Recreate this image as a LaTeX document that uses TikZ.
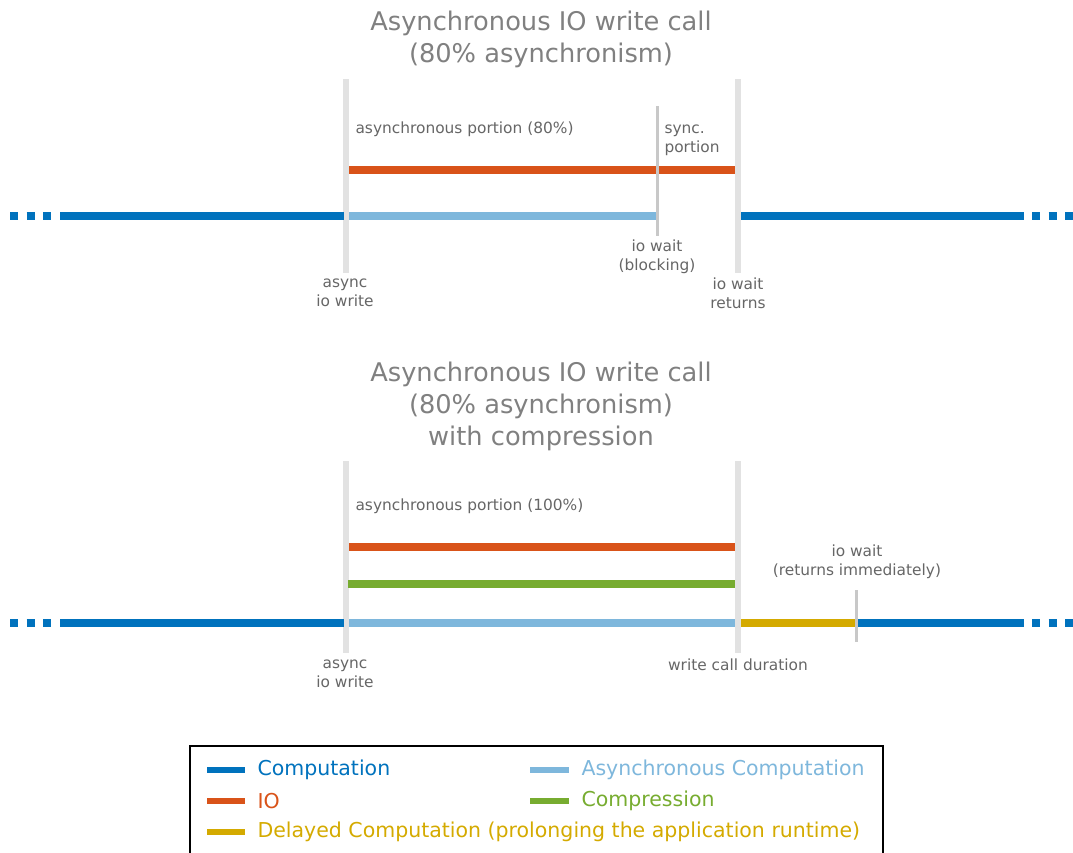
\documentclass[tikz,border=0pt]{standalone}
\usepackage{fontspec}
\setmainfont{DejaVu Sans}
\usetikzlibrary{positioning}
\usepackage{xcolor}

\definecolor{compblue}{RGB}{0,114,189}
\definecolor{ioorange}{RGB}{217,83,25}
\definecolor{asyncblue}{RGB}{126,183,220}
\definecolor{compgreen}{RGB}{119,172,48}
\definecolor{delayyellow}{RGB}{212,170,0}
\definecolor{titlegray}{RGB}{128,128,128}
\definecolor{notegray}{RGB}{102,102,102}
\definecolor{markgray}{RGB}{226,226,226}
\definecolor{waitgray}{RGB}{200,200,200}

\begin{document}
\begin{tikzpicture}[x=1pt, y=-1pt,
        heading/.style={text=titlegray, font=\fontsize{25.7}{32}\selectfont, align=center},
        note/.style={text=notegray, font=\fontsize{15.4}{19}\selectfont, align=center},
        seg/.style={line width=8pt},
        dots/.style={seg, compblue, dash pattern=on 8pt off 8.5pt},
        marker/.style={markgray, line width=6pt},
        waitmark/.style={waitgray, line width=3pt},
        legline/.style={line width=5.5pt},
        legtext/.style={font=\fontsize{20.5}{24}\selectfont, anchor=west}
    ]
        \useasboundingbox (0,-1) rectangle (1073,851);

        % Top panel
        \node[heading] (title1) at (541,38) {Asynchronous IO write call\\(80\% asynchronism)};

        \draw[marker] (346,78) -- (346,272);
        \draw[marker] (738,78) -- (738,272);
        \draw[waitmark] (657,105) -- (657,235);

        \draw[dots] (10,215) -- (52,215);
        \draw[seg, compblue] (60,215) -- (344,215);
        \draw[seg, asyncblue] (349,215) -- (656,215);
        \draw[seg, compblue] (741,215) -- (1024,215);
        \draw[dots] (1032,215) -- (1074,215);
        \draw[seg, ioorange] (349,169) -- (656,169);
        \draw[seg, ioorange] (659,169) -- (735,169);

        \node[note, anchor=west] (async1) at (352,128) {asynchronous portion (80\%)};
        \node[note, anchor=west, align=left] (sync1) at (661,139) {sync.\\portion};
        \node[note] (wait1) at (657,256) {io wait\\(blocking)};
        \node[note] (start1) at (345,292) {async\\io write};
        \node[note] (ret1) at (738,292) {io wait\\returns};

        % Bottom panel
        \node[heading] (title2) at (541,405) {Asynchronous IO write call\\(80\% asynchronism)\\with compression};

        \draw[marker] (346,460) -- (346,652);
        \draw[marker] (738,460) -- (738,652);
        \draw[waitmark] (856,589) -- (856,641);

        \draw[dots] (10,622) -- (52,622);
        \draw[seg, compblue] (60,622) -- (344,622);
        \draw[seg, asyncblue] (349,622) -- (735,622);
        \draw[seg, delayyellow] (741,622) -- (855,622);
        \draw[seg, compblue] (858,622) -- (1024,622);
        \draw[dots] (1032,622) -- (1074,622);
        \draw[seg, ioorange] (349,546) -- (735,546);
        \draw[seg, compgreen] (348,583) -- (735,583);

        \node[note, anchor=west] (async2) at (352,505) {asynchronous portion (100\%)};
        \node[note] (wait2) at (857,561) {io wait\\(returns immediately)};
        \node[note] (start2) at (345,673) {async\\io write};
        \node[note] (dur2) at (738,664) {write call duration};

        % Legend
        \draw[line width=1.5pt] (190,745) rectangle (883,880);
        \draw[legline, compblue] (207,769) -- (245,769);
        \node[legtext, text=compblue] (legcomp) at (254,769) {Computation};
        \draw[legline, asyncblue] (530,769) -- (569,769);
        \node[legtext, text=asyncblue] (legasync) at (578,769) {Asynchronous Computation};
        \draw[legline, ioorange] (207,800) -- (245,800);
        \node[legtext, text=ioorange] (legio) at (254,800) {IO};
        \draw[legline, compgreen] (530,800) -- (569,800);
        \node[legtext, text=compgreen] (legcompr) at (578,800) {Compression};
        \draw[legline, delayyellow] (207,831) -- (245,831);
        \node[legtext, text=delayyellow] (legdelay) at (254,831) {Delayed Computation (prolonging the application runtime)};
    \end{tikzpicture}
\end{document}
